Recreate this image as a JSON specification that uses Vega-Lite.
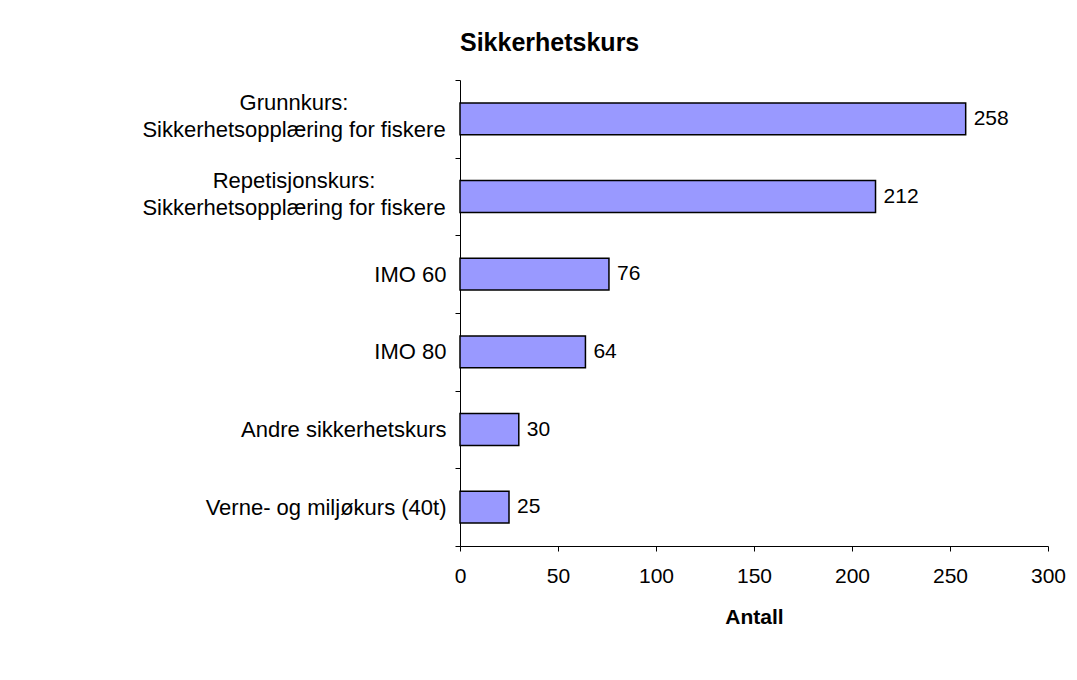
{
  "$schema": "https://vega.github.io/schema/vega-lite/v6.json",
  "width": 588,
  "height": 466,
  "autosize": "none",
  "padding": {"left": 460, "top": 80, "right": 29, "bottom": 134},
  "background": "white",
  "title": {"text": "Sikkerhetskurs", "anchor": "start", "frame": "group", "font": "Liberation Sans", "fontSize": 25, "fontWeight": "bold", "color": "black", "offset": 13},
  "data": {"values": [
    {"kurs": "Grunnkurs:|Sikkerhetsopplæring for fiskere", "antall": 258},
    {"kurs": "Repetisjonskurs:|Sikkerhetsopplæring for fiskere", "antall": 212},
    {"kurs": "IMO 60", "antall": 76},
    {"kurs": "IMO 80", "antall": 64},
    {"kurs": "Andre sikkerhetskurs", "antall": 30},
    {"kurs": "Verne- og miljøkurs (40t)", "antall": 25}
  ]},
  "encoding": {
    "y": {
      "field": "kurs", "type": "nominal", "sort": null,
      "scale": {"paddingInner": 0, "paddingOuter": 0},
      "axis": {
        "title": null, "tickBand": "extent", "tickSize": 5, "tickColor": "black",
        "domainColor": "black", "labelFont": "Liberation Sans", "labelFontSize": 22,
        "labelColor": "black", "labelPadding": 9,
        "labelLimit": 0, "labelOverlap": false,
        "labelExpr": "indexof(datum.label, '|') >= 0 ? '' : datum.label"
      }
    },
    "x": {
      "field": "antall", "type": "quantitative",
      "scale": {"domain": [0, 300], "nice": false},
      "axis": {
        "values": [0, 50, 100, 150, 200, 250, 300], "grid": false,
        "title": "Antall", "titleFont": "Liberation Sans", "titleFontSize": 21,
        "titleFontWeight": "bold", "titleColor": "black", "titlePadding": 20,
        "labelFont": "Liberation Sans", "labelFontSize": 21, "labelColor": "black",
        "labelPadding": 14, "labelFlush": false, "tickSize": 5, "tickColor": "black",
        "domainColor": "black"
      }
    }
  },
  "layer": [
    {"mark": {"type": "bar", "height": {"band": 0.41}, "fill": "#9999FF", "stroke": "black", "strokeWidth": 1.5}},
    {"mark": {"type": "text", "align": "left", "dx": 8, "baseline": "middle", "font": "Liberation Sans", "fontSize": 21, "color": "black"},
     "encoding": {"text": {"field": "antall", "type": "quantitative"}}},
    {"transform": [{"filter": "indexof(datum.kurs, '|') >= 0"}],
     "mark": {"type": "text", "align": "center", "baseline": "middle", "lineBreak": "|", "lineHeight": 27, "dx": -166, "dy": -16, "font": "Liberation Sans", "fontSize": 22, "color": "black"},
     "encoding": {"x": {"datum": 0, "type": "quantitative"}, "text": {"field": "kurs", "type": "nominal"}}}
  ],
  "config": {"view": {"stroke": null}}
}
